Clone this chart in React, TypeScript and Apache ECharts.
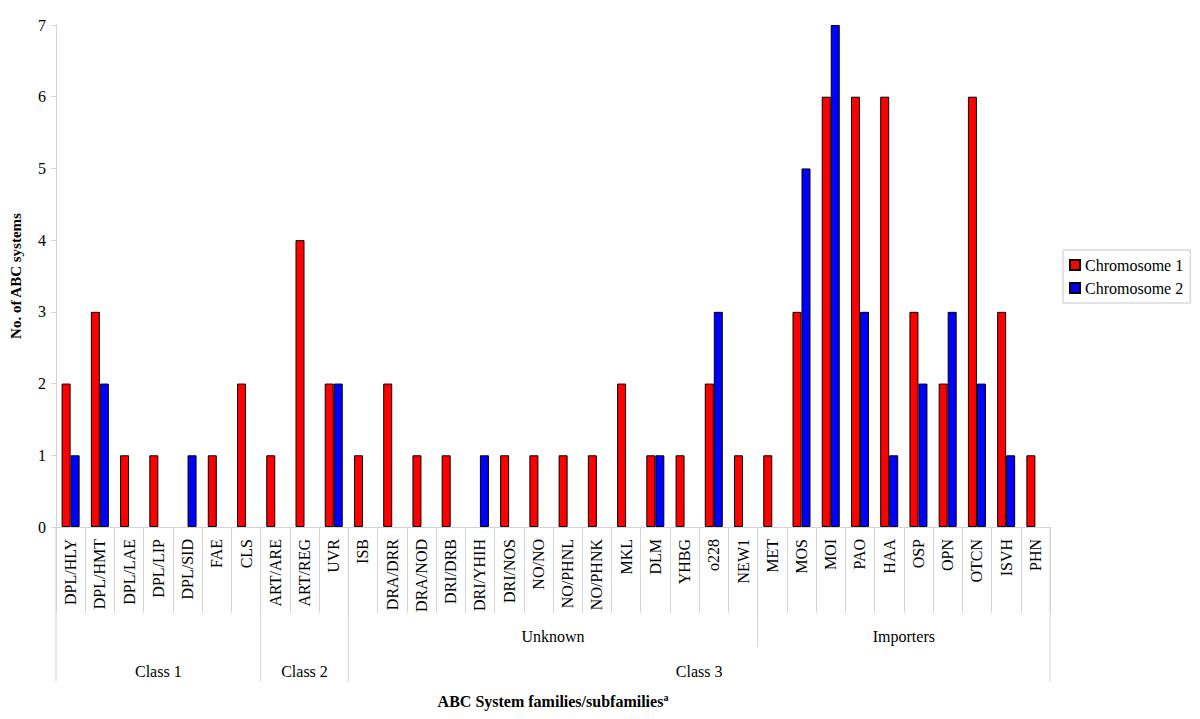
import React, { useEffect, useRef } from 'react';
import * as echarts from 'echarts';

const categories = [
  'DPL/HLY', 'DPL/HMT', 'DPL/LAE', 'DPL/LIP', 'DPL/SID', 'FAE', 'CLS',
  'ART/ARE', 'ART/REG', 'UVR',
  'ISB', 'DRA/DRR', 'DRA/NOD', 'DRI/DRB', 'DRI/YHIH', 'DRI/NOS', 'NO/NO', 'NO/PHNL', 'NO/PHNK', 'MKL', 'DLM', 'YHBG', 'o228', 'NEW1',
  'MET', 'MOS', 'MOI', 'PAO', 'HAA', 'OSP', 'OPN', 'OTCN', 'ISVH', 'PHN',
];
const chromosome1 = [2, 3, 1, 1, 0, 1, 2, 1, 4, 2, 1, 2, 1, 1, 0, 1, 1, 1, 1, 2, 1, 1, 2, 1, 1, 3, 6, 6, 6, 3, 2, 6, 3, 1];
const chromosome2 = [1, 2, 0, 0, 1, 0, 0, 0, 0, 2, 0, 0, 0, 0, 1, 0, 0, 0, 0, 0, 1, 0, 3, 0, 0, 5, 7, 3, 1, 2, 3, 2, 1, 0];
const classGroups = [
  { name: 'Class 1', size: 7 },
  { name: 'Class 2', size: 3 },
  { name: 'Class 3', size: 24 },
];
const subGroups = [
  { name: 'Unknown', start: 10, size: 14 },
  { name: 'Importers', start: 24, size: 10 },
];
const seriesNames = ['Chromosome 1', 'Chromosome 2'];
const xTitle = 'ABC System families/subfamilies';
const yTitle = 'No. of ABC systems';

const FONT = 'Liberation Serif';
const GRID = '#d4d4d4';

export default function App() {
  const ref = useRef<HTMLDivElement>(null);
  useEffect(() => {
    if (!ref.current) return;
    const chart = echarts.init(ref.current, null, { renderer: 'svg' });
    const toBar = (v: number) => (v === 0 ? '-' : v);
    chart.setOption({
      animation: false,
      backgroundColor: '#ffffff',
      textStyle: { fontFamily: FONT, color: '#000' },
      grid: { left: 55, right: 150, top: 25, bottom: 192, containLabel: false },
      legend: {
        data: seriesNames,
        orient: 'vertical',
        left: 1063,
        top: 250,
        itemWidth: 10,
        itemHeight: 10,
        itemGap: 7,
        icon: 'rect',
        borderColor: '#c8c8c8',
        borderWidth: 1,
        padding: [7, 7, 7, 6],
        textStyle: { fontFamily: FONT, fontSize: 16, color: '#000' },
      },
      xAxis: {
        type: 'category',
        data: categories,
        axisLine: { lineStyle: { color: GRID } },
        axisTick: { show: true, interval: 0, length: 86, lineStyle: { color: GRID } },
        axisLabel: {
          interval: 0,
          rotate: 90,
          margin: 12,
          fontFamily: FONT,
          fontSize: 16,
          color: '#000',
        },
      },
      yAxis: {
        type: 'value',
        min: 0,
        max: 7,
        interval: 1,
        name: yTitle,
        nameLocation: 'middle',
        nameGap: 33,
        nameRotate: 90,
        nameTextStyle: { fontFamily: FONT, fontSize: 15, fontWeight: 'bold', color: '#000' },
        axisLine: { show: true, lineStyle: { color: GRID } },
        axisTick: { show: true, length: 5, lineStyle: { color: GRID } },
        axisLabel: { fontFamily: FONT, fontSize: 16, color: '#000', margin: 10 },
        splitLine: { show: false },
      },
      series: [
        {
          name: seriesNames[0],
          type: 'bar',
          data: chromosome1.map(toBar),
          barWidth: 9,
          barGap: '0%',
          itemStyle: { color: '#ff0000', borderColor: '#000', borderWidth: 1 },
        },
        {
          name: seriesNames[1],
          type: 'bar',
          data: chromosome2.map(toBar),
          barWidth: 9,
          barGap: '0%',
          itemStyle: { color: '#0000ff', borderColor: '#000', borderWidth: 1 },
        },
      ],
    });

    const c0 = chart.convertToPixel({ xAxisIndex: 0 }, categories[0]) as number;
    const c1 = chart.convertToPixel({ xAxisIndex: 0 }, categories[1]) as number;
    const bw = c1 - c0;
    const left = c0 - bw / 2;
    const yBase = chart.convertToPixel({ yAxisIndex: 0 }, 0) as number;
    const edge = (i: number) => left + i * bw;

    const elements: any[] = [];
    let idx = 0;
    const classEdges = [0];
    classGroups.forEach((g) => {
      idx += g.size;
      classEdges.push(idx);
    });
    classEdges.forEach((i) => {
      elements.push({
        type: 'line',
        shape: { x1: edge(i), y1: yBase, x2: edge(i), y2: yBase + 155 },
        style: { stroke: GRID, lineWidth: 1 },
      });
    });
    let s = 0;
    classGroups.forEach((g) => {
      elements.push({
        type: 'text',
        x: (edge(s) + edge(s + g.size)) / 2,
        y: yBase + 144,
        style: { text: g.name, fontFamily: FONT, fontSize: 16, fill: '#000', align: 'center', verticalAlign: 'middle' },
      });
      s += g.size;
    });
    subGroups.forEach((g, k) => {
      if (k > 0) {
        elements.push({
          type: 'line',
          shape: { x1: edge(g.start), y1: yBase, x2: edge(g.start), y2: yBase + 120 },
          style: { stroke: GRID, lineWidth: 1 },
        });
      }
      elements.push({
        type: 'text',
        x: (edge(g.start) + edge(g.start + g.size)) / 2,
        y: yBase + 109,
        style: { text: g.name, fontFamily: FONT, fontSize: 16, fill: '#000', align: 'center', verticalAlign: 'middle' },
      });
    });
    elements.push({
      type: 'text',
      x: (edge(0) + edge(categories.length)) / 2,
      y: yBase + 174,
      style: {
        text: `{t|${xTitle}}{s|a}`,
        align: 'center',
        verticalAlign: 'middle',
        rich: {
          t: { fontFamily: FONT, fontSize: 16, fontWeight: 'bold', fill: '#000', color: '#000' },
          s: { fontFamily: FONT, fontSize: 10, fontWeight: 'bold', fill: '#000', color: '#000', verticalAlign: 'top', padding: [0, 0, 8, 0] },
        },
      },
    });
    chart.setOption({ graphic: { elements } });

    return () => chart.dispose();
  }, []);
  return (
    <div
      ref={ref}
      style={{ position: 'fixed', left: 0, top: 0, width: 1200, height: 719, background: '#fff' }}
    />
  );
}
